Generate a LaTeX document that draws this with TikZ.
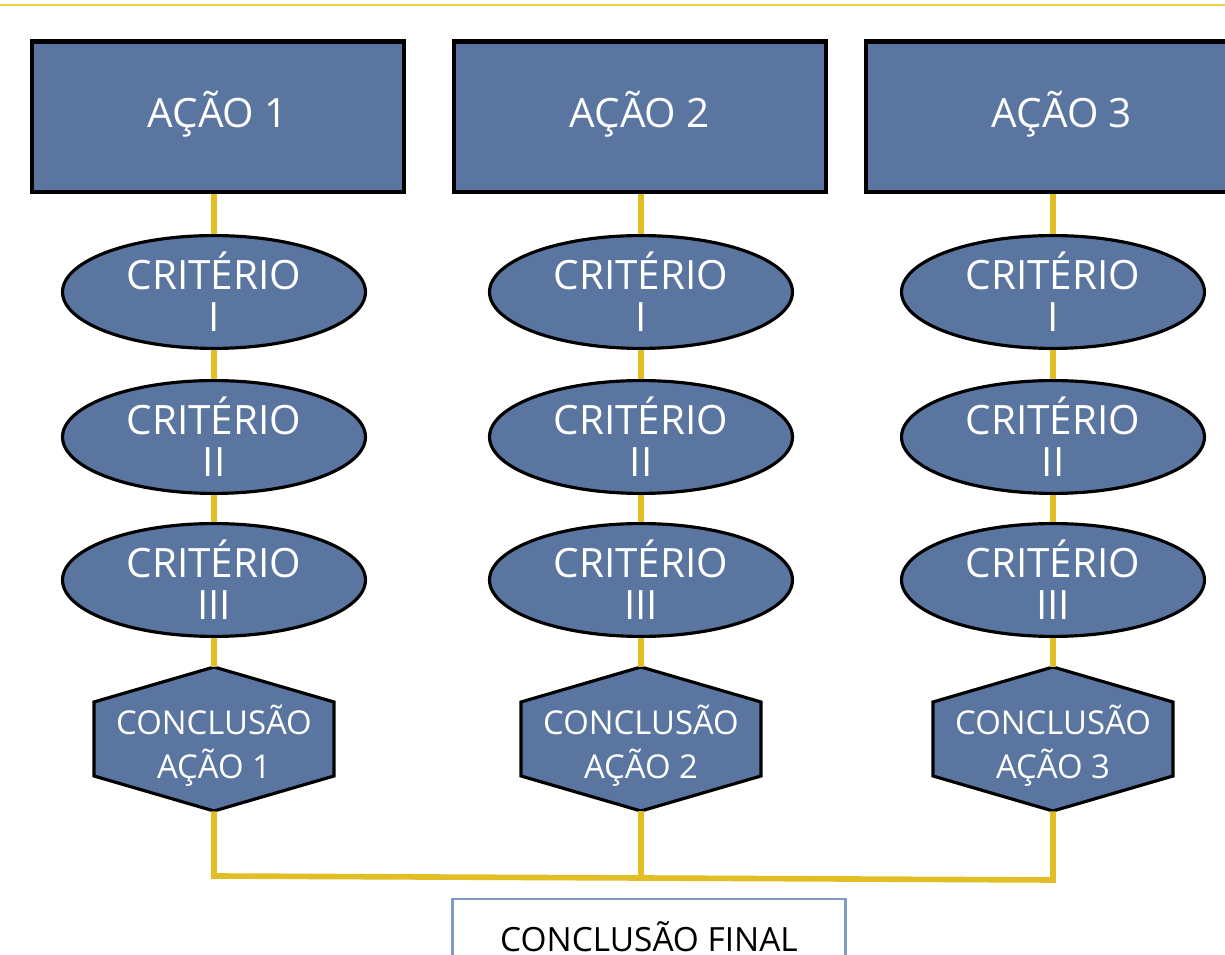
\documentclass[tikz,border=0pt]{standalone}
\usepackage{fontspec}
\setmainfont{Open Sans}
\usetikzlibrary{shapes.geometric}
\definecolor{acaoblue}{RGB}{90,118,160}
\definecolor{linkyellow}{RGB}{225,190,35}
\definecolor{ruleyellow}{RGB}{240,208,70}
\definecolor{finalblue}{RGB}{127,156,200}
\tikzset{
	acaobox/.style={draw=black, line width=2.3pt, fill=acaoblue, text=white, minimum height=3.02cm, inner sep=0pt, text height=0.62cm, text depth=0.18cm, font=\fontsize{23}{23}\selectfont},
	criterio/.style={ellipse, draw=black, line width=1.8pt, fill=acaoblue, text=white, minimum width=6.06cm, minimum height=2.18cm, inner sep=0pt, align=center, font=\fontsize{23}{24}\selectfont},
	conclusao/.style={inner sep=0pt, minimum height=2.88cm, text=white, align=center, font=\fontsize{18.7}{25}\selectfont},
	hexfill/.style={draw=black, line width=1.8pt, fill=acaoblue, line join=miter},
	link/.style={linkyellow, line width=3.2pt},
	finalbox/.style={draw=finalblue, line width=1.2pt, minimum width=7.86cm, minimum height=1.52cm, inner sep=0pt, font=\fontsize{19}{19}\selectfont}
}
\begin{document}
\begin{tikzpicture}[x=0.02cm, y=-0.02cm]
	\useasboundingbox (0, 0) rectangle (1225, 955);
	\clip (0, 0) rectangle (1225, 955);
	\draw [ruleyellow, line width=1.5pt] (0, 5) -- (1225, 5);
	\foreach \i/\x/\bx/\bw in {1/214/218/7.46cm, 2/641/640/7.46cm, 3/1053/1062/7.84cm} {
		\node [acaobox, minimum width=\bw] (a\i) at (\bx, 117) {AÇÃO \i};
		\node [criterio] (e\i1) at (\x, 292) {CRITÉRIO\\I};
		\node [criterio] (e\i2) at (\x, 437) {CRITÉRIO\\II};
		\node [criterio] (e\i3) at (\x, 580) {CRITÉRIO\\III};
		\filldraw [hexfill] (\x, 667) -- ++(120, 35) -- ++(0, 74) -- ++(-120, 35) -- ++(-120, -35) -- ++(0, -74) -- cycle;
		\node [conclusao] (c\i) at (\x, 739) {\rule{0pt}{1.3em}CONCLUSÃO\\AÇÃO \i};
		\draw [link] (a\i.south -| e\i1.north) -- (e\i1.north);
		\draw [link] (e\i1.south) -- (e\i2.north);
		\draw [link] (e\i2.south) -- (e\i3.north);
		\draw [link] (e\i3.south) -- (c\i.north);
	}
	\coordinate (j1) at (214, 876);
	\coordinate (j2) at (641, 878);
	\coordinate (j3) at (1053, 880);
	\node [finalbox] (final) at (649, 937) {CONCLUSÃO FINAL};
	\draw [link] (c1.south) -- (j1) -- (j2) -- (j3) -- (c3.south);
	\draw [link] (c2.south) -- (j2);
\end{tikzpicture}
\end{document}
